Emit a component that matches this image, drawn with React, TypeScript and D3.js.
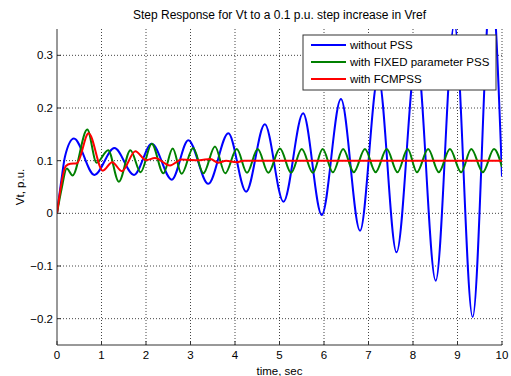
import React from "react";
import * as d3 from "d3";

const title = "Step Response for Vt to a 0.1 p.u. step increase in Vref";
const xLabel = "time, sec";
const yLabel = "Vt, p.u.";
const xTicks = [0, 1, 2, 3, 4, 5, 6, 7, 8, 9, 10];
const yTicks = [-0.2, -0.1, 0, 0.1, 0.2, 0.3];
const seriesNames = ["without PSS", "with FIXED parameter PSS", "with FCMPSS"];
const seriesColors = ["#0000ff", "#008000", "#ff0000"];

const blueT = [0, 0.1, 0.18, 0.38, 0.84, 1.29, 1.73, 2.13, 2.58, 2.95, 3.4, 3.85, 4.25, 4.67, 5.09, 5.53, 5.95, 6.38, 6.81, 7.22, 7.63, 8.08, 8.51, 8.93, 9.34, 9.76, 10];
const blueV = [0, 0.064, 0.108, 0.142, 0.073, 0.124, 0.073, 0.132, 0.064, 0.139, 0.056, 0.152, 0.041, 0.169, 0.022, 0.19, -0.003, 0.217, -0.033, 0.26, -0.074, 0.3, -0.128, 0.36, -0.197, 0.44, 0.07];

const greenT = [0, 0.1, 0.22, 0.35, 0.68, 0.89, 1.15, 1.39, 1.65, 1.88, 2.13, 2.39, 2.6, 2.8, 3.06, 3.29, 3.55, 3.78, 4.04, 4.27, 4.51, 4.75, 5.01, 5.26, 5.5, 5.75, 5.97, 6.2, 6.43, 6.67, 6.92, 7.16, 7.41, 7.65, 7.88, 8.09, 8.34, 8.58, 8.83, 9.08, 9.31, 9.57, 9.82, 10];
const greenV = [0, 0.045, 0.085, 0.072, 0.159, 0.096, 0.12, 0.06, 0.12, 0.078, 0.132, 0.076, 0.123, 0.075, 0.124, 0.076, 0.127, 0.076, 0.122, 0.077, 0.122, 0.077, 0.123, 0.077, 0.122, 0.077, 0.122, 0.078, 0.122, 0.078, 0.122, 0.078, 0.122, 0.078, 0.122, 0.078, 0.122, 0.078, 0.122, 0.078, 0.122, 0.078, 0.122, 0.088];

const redT = [0, 0.2, 0.3, 0.45, 0.71, 1.03, 1.24, 1.46, 1.76, 2.0, 2.2, 2.54, 2.8, 3.2, 3.45, 3.62, 3.8, 4.03, 4.2, 5, 6, 7, 8, 9, 10];
const redV = [0, 0.09, 0.094, 0.095, 0.152, 0.081, 0.097, 0.08, 0.118, 0.101, 0.105, 0.091, 0.102, 0.101, 0.103, 0.096, 0.1, 0.097, 0.1, 0.1, 0.1, 0.1, 0.1, 0.1, 0.1];

const W = 511, H = 376;
const M = { left: 57, right: 502, top: 29, bottom: 345 };
const FONT = "Arial, 'Liberation Sans', Helvetica, sans-serif";
const FS = 11.5;

export default function App() {
  const x = d3.scaleLinear().domain([0, 10]).range([M.left, M.right]);
  const y = d3.scaleLinear().domain([-0.25, 0.35]).range([M.bottom, M.top]);
  const line = d3
    .line<[number, number]>()
    .x((d) => x(d[0]))
    .y((d) => y(d[1]))
    .curve(d3.curveMonotoneX);
  const series = [
    blueT.map((t, i) => [t, blueV[i]] as [number, number]),
    greenT.map((t, i) => [t, greenV[i]] as [number, number]),
    redT.map((t, i) => [t, redV[i]] as [number, number]),
  ];
  const gridColor = "#444";
  const axisColor = "#333";
  const legend = { x: 303, y: 35, w: 193, h: 55 };
  return (
    <svg width={W} height={H} style={{ position: "absolute", left: 0, top: 0, background: "#fff" }} fontFamily={FONT}>
      <defs>
        <clipPath id="plotClip">
          <rect x={M.left} y={M.top} width={M.right - M.left} height={M.bottom - M.top} />
        </clipPath>
      </defs>
      <rect x={0} y={0} width={W} height={H} fill="#fff" />
      {xTicks.filter((t) => t > 0).map((t) => (
        <line key={"gx" + t} x1={x(t)} x2={x(t)} y1={M.top} y2={M.bottom} stroke={gridColor} strokeWidth={1} strokeDasharray="1,2" />
      ))}
      {yTicks.map((t) => (
        <line key={"gy" + t} x1={M.left} x2={M.right} y1={y(t)} y2={y(t)} stroke={gridColor} strokeWidth={1} strokeDasharray="1,2" />
      ))}
      <g clipPath="url(#plotClip)">
        {series.map((s, i) => (
          <path key={i} d={line(s) || ""} fill="none" stroke={seriesColors[i]} strokeWidth={2} strokeLinejoin="round" />
        ))}
      </g>
      <line x1={M.left} x2={M.left} y1={M.top} y2={M.bottom} stroke={axisColor} strokeWidth={1} />
      <line x1={M.left} x2={M.right} y1={M.bottom} y2={M.bottom} stroke={axisColor} strokeWidth={1} />
      {xTicks.map((t) => (
        <g key={"xt" + t}>
          <line x1={x(t)} x2={x(t)} y1={M.bottom} y2={M.bottom - 4} stroke={axisColor} />
          <text x={x(t)} y={M.bottom + 14} fontSize={FS} textAnchor="middle" fill="#000">{t}</text>
        </g>
      ))}
      {yTicks.map((t) => (
        <g key={"yt" + t}>
          <line x1={M.left} x2={M.left + 4} y1={y(t)} y2={y(t)} stroke={axisColor} />
          <text x={M.left - 4} y={y(t) + 4} fontSize={FS} textAnchor="end" fill="#000">{d3.format("")(Math.round(t * 10) / 10)}</text>
        </g>
      ))}
      <text x={(M.left + M.right) / 2} y={19} fontSize={12} textAnchor="middle" fill="#000">{title}</text>
      <text x={(M.left + M.right) / 2} y={375} fontSize={FS} textAnchor="middle" fill="#000">{xLabel}</text>
      <text transform={`translate(24,${(M.top + M.bottom) / 2}) rotate(-90)`} fontSize={FS} textAnchor="middle" fill="#000">{yLabel}</text>
      <rect x={legend.x} y={legend.y} width={legend.w} height={legend.h} fill="#fff" stroke={axisColor} strokeWidth={1} />
      {seriesNames.map((n, i) => {
        const ly = legend.y + 10 + i * 17;
        return (
          <g key={"lg" + i}>
            <line x1={legend.x + 8} x2={legend.x + 43} y1={ly} y2={ly} stroke={seriesColors[i]} strokeWidth={2} />
            <text x={legend.x + 47} y={ly + 4} fontSize={FS} fill="#000">{n}</text>
          </g>
        );
      })}
    </svg>
  );
}
